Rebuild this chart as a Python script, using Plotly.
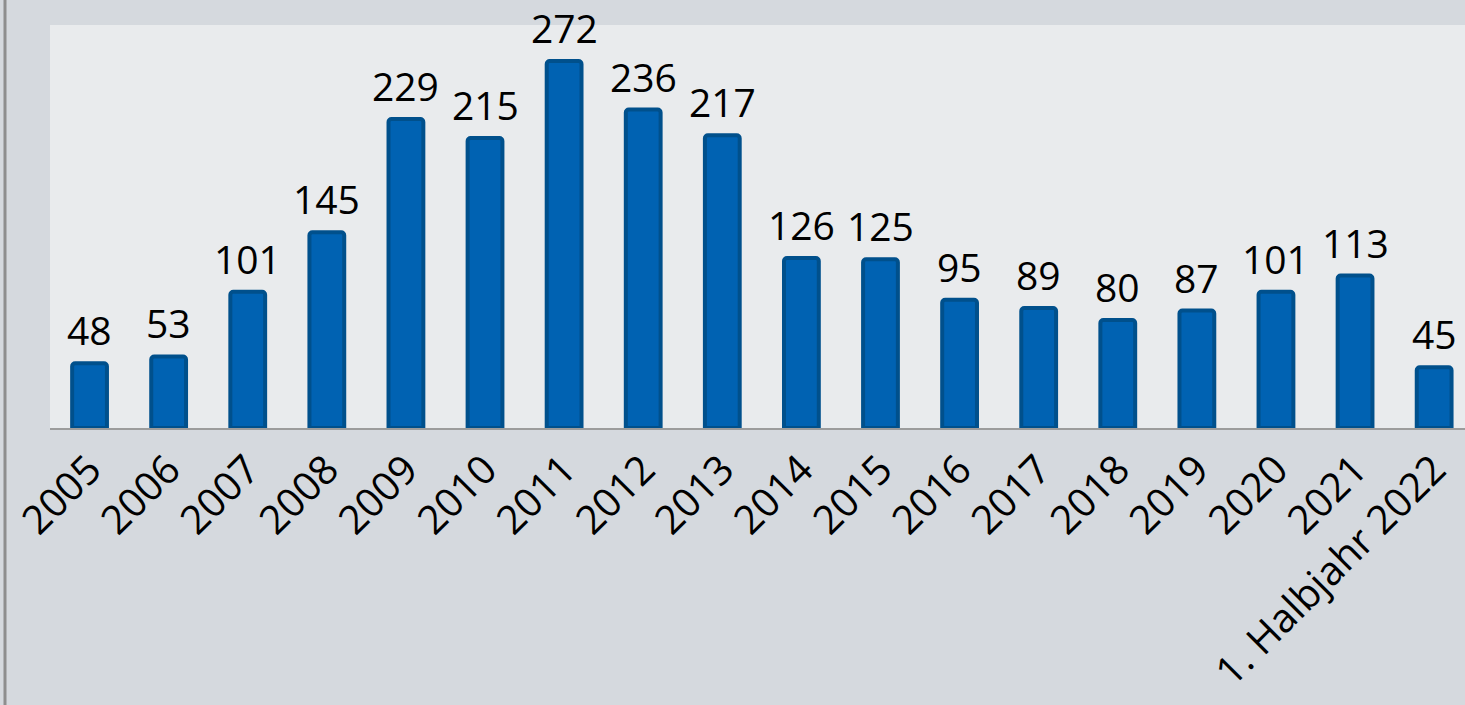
import plotly.graph_objects as go

categories = ["2005", "2006", "2007", "2008", "2009", "2010", "2011", "2012", "2013",
              "2014", "2015", "2016", "2017", "2018", "2019", "2020", "2021", "1. Halbjahr 2022"]
values = [48, 53, 101, 145, 229, 215, 272, 236, 217, 126, 125, 95, 89, 80, 87, 101, 113, 45]

FONT = "Open Sans"

fig = go.Figure()
fig.add_trace(go.Bar(
    x=categories, y=values,
    width=0.44,
    marker=dict(color="#0062b2", line=dict(color="#00508c", width=4), cornerradius=3),
    hoverinfo="x+y",
))

for i, v in enumerate(values):
    fig.add_annotation(x=i, y=v, text=str(v), showarrow=False, yanchor="bottom",
                       yshift=5, font=dict(family=FONT, size=39, color="#000000"))

fig.add_shape(type="line", xref="paper", yref="paper", x0=-45/1415, x1=-45/1415,
              y0=-1, y1=2, line=dict(color="#8e8e8e", width=3))

fig.update_layout(
    width=1465, height=705,
    margin=dict(l=50, r=0, t=25, b=277),
    paper_bgcolor="#d5d9de",
    plot_bgcolor="#e9ebed",
    showlegend=False,
    xaxis=dict(type="category", range=[-0.5, 17.39], tickangle=-45, automargin=False,
               tickfont=dict(family=FONT, size=40, color="#000000"),
               showline=True, linecolor="#9c9c9c", linewidth=2, ticks="", showgrid=False,
               fixedrange=True),
    yaxis=dict(range=[0, 298.7], showticklabels=False, showgrid=False, zeroline=False,
               automargin=False, fixedrange=True),
)

fig.write_html("out.html", config={"displayModeBar": False},
               post_script="document.body.style.margin='0';")
